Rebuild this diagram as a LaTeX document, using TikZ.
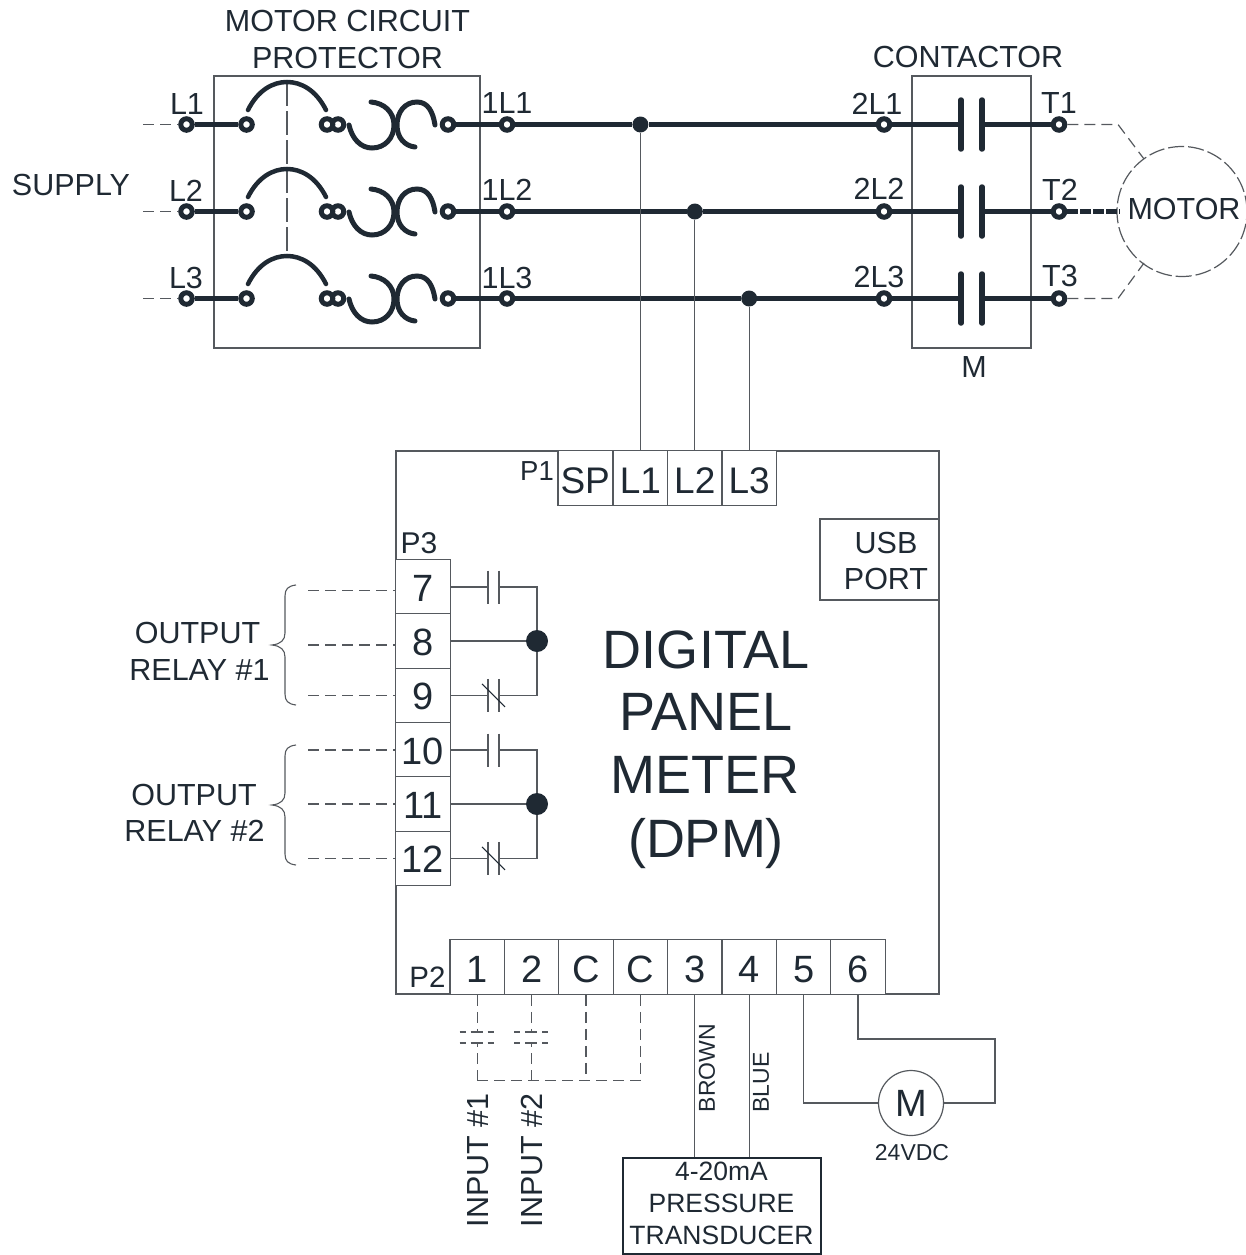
\documentclass[tikz,border=0pt]{standalone}
\usepackage{fontspec}
\setmainfont{Liberation Sans}
\definecolor{ink}{HTML}{1F2933}
\definecolor{thin}{HTML}{55595E}
\tikzset{
  lbl/.style={inner sep=0pt,text=ink,font=\fontsize{#1}{#1}\selectfont,align=center},
  lbl/.default=30.5,
  pwr/.style={line width=5.5pt,draw=ink},
  sym/.style={line width=5.5pt,draw=ink,line cap=round},
  frame/.style={line width=1.2pt,draw=thin},
  wire/.style={line width=1.2pt,draw=thin},
  dashwire/.style={line width=1.2pt,draw=thin,dash pattern=on 11pt off 6pt},
  term/.style={circle,draw=ink,fill=white,line width=5pt,minimum size=11.5pt,inner sep=0pt},
  junc/.style={circle,fill=ink,inner sep=0pt,minimum size=#1},
  junc/.default=16pt,
  cell/.style={rectangle,draw=thin,line width=1.2pt,fill=white,inner sep=0pt,minimum width=#1,minimum height=54.3pt,text=ink,font=\fontsize{38}{38}\selectfont},
  cell/.default=54.3pt,
}
\newcommand{\low}[2][-2.5pt]{\raisebox{#1}[\height][0pt]{#2}}
\begin{document}
\begin{tikzpicture}[x=1pt,y=-1pt]
\useasboundingbox (0,0) rectangle (1246,1255);
% boxes
\node[frame,rectangle,inner sep=0pt,minimum width=266pt,minimum height=272pt] (mcp) at (347,212) {};
\node[frame,rectangle,inner sep=0pt,minimum width=119pt,minimum height=272pt] (con) at (971.5,212) {};
\node[frame,rectangle,inner sep=0pt,minimum width=543pt,minimum height=543pt] (dpm) at (667.5,722.5) {};
\node[frame,rectangle,inner sep=0pt,minimum width=119pt,minimum height=81pt] (usb) at (879.5,559.5) {};
% gang line
\coordinate (ganga) at (287,82);
\coordinate (gangb) at (287,255);
\draw[dashwire,dash pattern=on 24pt off 5pt] (ganga) -- (gangb);
% three phases
\foreach \n/\y/\jx in {1/124.5/640.4,2/211.5/694.8,3/298.5/749.2}{
  \coordinate (sup\n) at (143,\y);
  \node[term] (L\n) at (186.5,\y) {};
  \node[term] (a\n) at (246.5,\y) {};
  \node[term] (b\n) at (338,\y) {};
  \node[term] (c\n) at (327,\y) {};
  \node[term] (d\n) at (448,\y) {};
  \node[term] (oneL\n) at (507,\y) {};
  \node[junc] (j\n) at (\jx,\y) {};
  \node[term] (twoL\n) at (884,\y) {};
  \coordinate (pa\n) at (961,\y);
  \coordinate (pb\n) at (982,\y);
  \node[term] (T\n) at (1059,\y) {};
  \draw[dashwire] (sup\n) -- (L\n);
  \draw[pwr] (L\n) -- (a\n);
  \draw[pwr] (d\n) -- (oneL\n);
  \draw[pwr] (oneL\n) -- (j\n) -- (twoL\n);
  \draw[pwr] (twoL\n) -- (pa\n);
  \draw[pwr] (pb\n) -- (T\n);
  \draw[sym] (961,\y-24.5) -- (961,\y+24.5);
  \draw[sym] (982,\y-24.5) -- (982,\y+24.5);
  \begin{scope}[shift={(0,\y-124.5)}]
    \draw[sym,line width=4.5pt] (248,110) .. controls (258,90) and (273,82) .. (287,82) .. controls (301,82) and (316,90) .. (326,110);
    \draw[sym,line width=5pt] (349,125) .. controls (352,139) and (361,148) .. (372,148) .. controls (385,148) and (394,138) .. (394,125) .. controls (394,112) and (384,103) .. (371,102);
    \draw[sym,line width=5pt] (435,125) .. controls (433,112) and (428,102) .. (417,102) .. controls (405,102) and (397,112) .. (397,125) .. controls (397,138) and (405,146) .. (415,147);
  \end{scope}
}
% motor
\node[circle,draw=thin,line width=1.2pt,dash pattern=on 16pt off 4pt,minimum size=130pt,inner sep=0pt] (motor) at (1182,211.5) {};
\node[lbl] (motortxt) at (1184,209) {MOTOR};
\coordinate (k1) at (1118,124.5);
\coordinate (k3) at (1118,298.5);
\coordinate (m1) at (1144,159);
\coordinate (m3) at (1144,263);
\coordinate (m2) at (1120,211.5);
\draw[dashwire] (T1) -- (k1) -- (m1);
\draw[dashwire] (T3) -- (k3) -- (m3);
\draw[line width=5pt,draw=ink,dash pattern=on 11pt off 2pt] (T2) -- (m2);
% power labels
\node[lbl] (tsup) at (71,184.5) {SUPPLY};
\node[lbl] (tmcp) at (347.5,39.5) {MOTOR CIRCUIT\\[6pt]PROTECTOR};
\node[lbl] (tcon) at (968,57.5) {CONTACTOR};
\node[lbl] (tm) at (974,367.5) {M};
\foreach \t/\x/\y in {L1/187/104.5,L2/186/190.5,L3/186/277.5,1L1/507/103.5,1L2/507/189.5,1L3/507/277.5,2L1/877/103.5,2L2/879/188.5,2L3/879/276.5,T1/1059/103.5,T2/1060/189.5,T3/1060/275.5}{
  \node[lbl] (lab\t) at (\x,\y) {\t};
}
% P1
\node[cell,font=\fontsize{37}{37}\selectfont] (pSP) at (585.2,478) {\low{SP}};
\node[cell,font=\fontsize{37}{37}\selectfont] (pL1) at (640.4,478) {\low{L1}};
\node[cell,font=\fontsize{37}{37}\selectfont] (pL2) at (694.8,478) {\low{L2}};
\node[cell,font=\fontsize{37}{37}\selectfont] (pL3) at (749.2,478) {\low{L3}};
\draw[wire] (j1) -- (pL1);
\draw[wire] (j2) -- (pL2);
\draw[wire] (j3) -- (pL3);
\node[lbl=27.5] (tp1) at (537,471) {P1};
% P3
\node[lbl=30] (tp3) at (419,543) {P3};
\foreach \n/\y in {7/587,8/641,9/695.4,10/750,11/804,12/858.4}{
  \node[cell] (r\n) at (423,\y) {\low[-1pt]{\n}};
}
\node[junc=22pt] (bus1) at (537,641) {};
\node[junc=22pt] (bus2) at (537,804) {};
\foreach \n/\y in {7/590.7,8/645,9/695.7,10/750,11/804,12/858.7}{
  \coordinate (dl\n) at (308,\y);
  \draw[dashwire] (dl\n) -- (dl\n -| r\n.west);
}
\draw[wire] (r8) -- (bus1);
\draw[wire] (r11) -- (bus2);
\foreach \t/\m/\bus in {7/9/bus1,10/12/bus2}{
  \coordinate (ca\t) at (488,0 |- r\t);
  \coordinate (cb\t) at (499,0 |- r\t);
  \coordinate (ca\m) at (488,0 |- r\m);
  \coordinate (cb\m) at (499,0 |- r\m);
  \draw[wire] (r\t) -- (ca\t);
  \draw[wire] (r\m) -- (ca\m);
  \draw[wire] (ca\t) ++(0,-16.5) -- ++(0,33);
  \draw[wire] (cb\t) ++(0,-16.5) -- ++(0,33);
  \draw[wire] (ca\m) ++(0,-16.5) -- ++(0,33);
  \draw[wire] (cb\m) ++(0,-16.5) -- ++(0,33);
  \draw[line width=1pt,draw=ink] (ca\m) ++(-6,-11.5) -- ++(23,23);
  \draw[wire] (cb\t) -| (\bus);
  \draw[wire] (cb\m) -| (\bus);
}
% braces
\foreach \m/\nm in {645/b1,805/b2}{
  \draw[line width=1.1pt,draw=thin] (296,\m-60) .. controls (288,\m-59) and (285,\m-56) .. (285,\m-49) -- (285,\m-12) .. controls (285,\m-5) and (281,\m-1) .. (272,\m) .. controls (281,\m+1) and (285,\m+5) .. (285,\m+12) -- (285,\m+49) .. controls (285,\m+56) and (288,\m+59) .. (296,\m+60);
}
\node[lbl] (tor1a) at (197.5,632.5) {OUTPUT};
\node[lbl] (tor1b) at (199.5,669.5) {RELAY \#1};
\node[lbl] (tor2a) at (194,795) {OUTPUT};
\node[lbl] (tor2b) at (194.5,831) {RELAY \#2};
% centre
\node[lbl=54] (tdig) at (706,650) {DIGITAL};
\node[lbl=54] (tpan) at (706,712) {PANEL};
\node[lbl=54] (tmet) at (705,775) {METER};
\node[lbl=54] (tdpm) at (706,844) {(DPM)};
\node[lbl] (tusb) at (886,561) {USB\\[6pt]PORT};
% P2
\node[lbl=29.5] (tp2) at (427.5,977) {P2};
\foreach \k/\t/\x in {a/1/477.2,b/2/531.6,c/C/586,d/C/640.4,e/3/694.8,f/4/749.2,g/5/803.6,h/6/858}{
  \node[cell] (q\k) at (\x,967) {\low{\t}};
}
% inputs
\coordinate (ia) at (477.2,1032);
\coordinate (ib) at (531.6,1032);
\coordinate (ja) at (477.2,1043);
\coordinate (jb) at (531.6,1043);
\coordinate (ka) at (477.2,1080.7);
\coordinate (kb) at (531.6,1080.7);
\coordinate (kc) at (586,1080.7);
\coordinate (kd) at (640.4,1080.7);
\draw[dashwire] (qa.south) -- (ia);
\draw[dashwire] (qb.south) -- (ib);
\draw[dashwire] (ka) -- (ja);
\draw[dashwire] (kb) -- (jb);
\draw[dashwire] (qc.south) -- (kc);
\draw[dashwire] (qd.south) -- (kd);
\draw[dashwire] (ka) -- (kb) -- (kc) -- (kd);
\foreach \x in {477.2,531.6}{
  \draw[wire,dash pattern=on 6pt off 5pt on 12pt off 5pt on 6pt] (\x-17.5,1032) -- (\x+17.5,1032);
  \draw[wire,dash pattern=on 6pt off 5pt on 12pt off 5pt on 6pt] (\x-17.5,1043) -- (\x+17.5,1043);
}
\node[lbl,rotate=90] (tin1) at (478,1160.5) {INPUT \#1};
\node[lbl,rotate=90] (tin2) at (532,1160.5) {INPUT \#2};
% transducer
\node[rectangle,draw=ink,line width=2pt,inner sep=0pt,minimum width=198pt,minimum height=96pt] (ptx) at (722,1206) {};
\node[lbl=26.5] (tptx) at (721.5,1203) {4-20mA\\[5.5pt]PRESSURE\\[5.5pt]TRANSDUCER};
\draw[wire] (qe.south) -- (qe.south |- ptx.north);
\draw[wire] (qf.south) -- (qf.south |- ptx.north);
\node[lbl=23,rotate=90] (tbr) at (707,1068) {BROWN};
\node[lbl=23,rotate=90] (tbl) at (761,1082.5) {BLUE};
% pump motor
\node[circle,draw=thin,line width=1.2pt,minimum size=65pt,inner sep=0pt,text=ink,font=\fontsize{38}{38}\selectfont] (pm) at (911,1103) {M};
\node[lbl=23] (t24) at (912,1153) {24VDC};
\coordinate (w6a) at (995,1039);
\coordinate (w6b) at (995,1103);
\draw[wire] (qg.south) |- (pm.west);
\draw[wire] (qh.south) |- (w6a) -- (w6b) -- (pm.east);
\end{tikzpicture}
\end{document}
